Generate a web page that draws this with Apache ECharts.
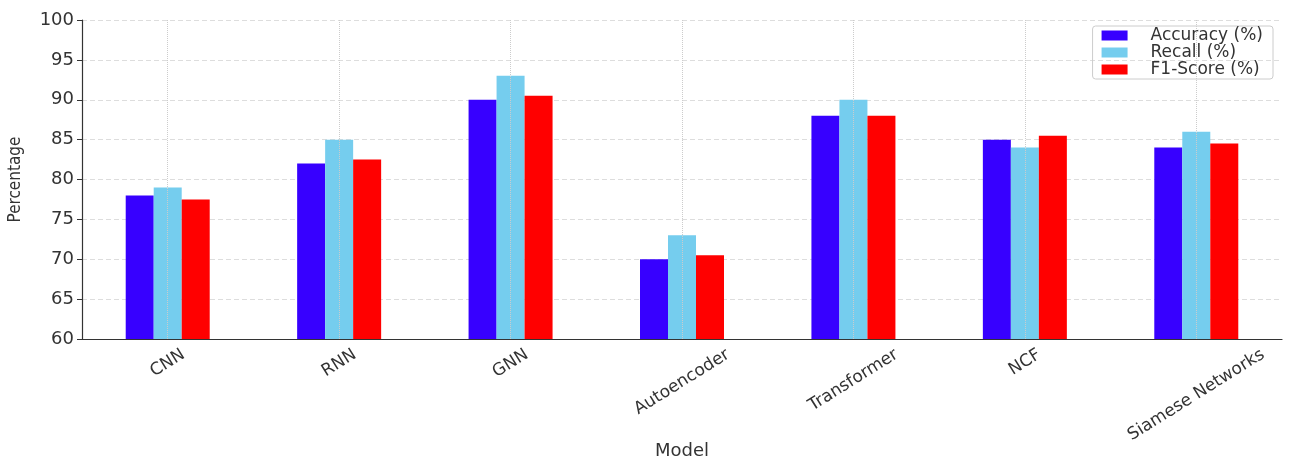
<!DOCTYPE html>
<html>
<head>
<meta charset="utf-8">
<script src="https://cdn.jsdelivr.net/npm/echarts@6/dist/echarts.min.js"></script>
<style>
  html, body { margin: 0; padding: 0; background: #fff; }
  #chart { width: 1302px; height: 466px; }
</style>
</head>
<body>
<div id="chart"></div>
<script>
const models = ["CNN", "RNN", "GNN", "Autoencoder", "Transformer", "NCF", "Siamese Networks"];
const accuracy = [78, 82, 90, 70, 88, 85, 84];
const recall = [79, 85, 93, 73, 90, 84, 86];
const f1Score = [77.5, 82.5, 90.5, 70.5, 88, 85.5, 84.5];
const yTicks = [60, 65, 70, 75, 80, 85, 90, 95, 100];

const labelFont = 17;
const labelFamily = "'DejaVu Sans', sans-serif";
const rotateDeg = 32;

// rotated tick labels are centred on the tick with their top just under the axis
const ctx = document.createElement("canvas").getContext("2d");
ctx.font = labelFont + "px " + labelFamily;
const theta = (rotateDeg * Math.PI) / 180;
const rich = {};
models.forEach((m, i) => {
  const L = ctx.measureText(m).width;
  const h = labelFont;
  const s = (L * Math.sin(theta) + h * Math.cos(theta)) / 2;
  rich["p" + i] = {
    fontSize: labelFont,
    fontFamily: labelFamily,
    color: "#333",
    padding: [2 * s * Math.cos(theta), 2 * s * Math.sin(theta), 0, 0],
  };
});

const chart = echarts.init(document.getElementById("chart"));

const barSeries = (name, data, color) => ({
  name,
  type: "bar",
  data,
  barWidth: 28,
  barGap: "0%",
  itemStyle: { color },
});

chart.setOption({
  animation: false,
  textStyle: { fontFamily: labelFamily },
  grid: { left: 82, right: 20, top: 20, bottom: 127, outerBoundsMode: "none", containLabel: false },
  legend: {
    orient: "vertical",
    right: 29,
    top: 26,
    itemWidth: 26,
    itemHeight: 10,
    itemGap: 0,
    padding: [1, 10, 1, 9],
    borderColor: "#ccc",
    borderWidth: 1,
    borderRadius: 3,
    icon: "rect",
    textStyle: { fontSize: 17, color: "#333", padding: [0, 0, 0, 18] },
  },
  xAxis: {
    type: "category",
    data: models,
    z: 3,
    name: "Model",
    nameLocation: "middle",
    nameGap: 103,
    nameMoveOverlap: false,
    nameTextStyle: { fontSize: 18, color: "#333" },
    axisLine: { lineStyle: { color: "#333", width: 1.2 } },
    axisTick: { alignWithLabel: true, inside: true, length: 4, lineStyle: { color: "#333" } },
    splitLine: {
      show: true,
      alignWithLabel: true,
      lineStyle: { color: "#ccc", type: "dotted", width: 1 },
    },
    axisLabel: {
      interval: 0,
      rotate: rotateDeg,
      align: "center",
      verticalAlign: "middle",
      margin: 7,
      formatter: (v, i) => "{p" + i + "|" + v + "}",
      rich,
    },
  },
  yAxis: {
    type: "value",
    min: yTicks[0],
    max: yTicks[yTicks.length - 1],
    interval: 5,
    name: "Percentage",
    nameLocation: "middle",
    nameGap: 58,
    nameMoveOverlap: false,
    nameTextStyle: {
      fontSize: 17,
      color: "#333",
      fontFamily: "'DejaVu Sans Condensed', 'Liberation Sans Narrow', 'Liberation Sans', sans-serif",
    },
    axisLine: { show: true, lineStyle: { color: "#333", width: 1.2 } },
    axisTick: { show: true, length: 5, lineStyle: { color: "#333" } },
    axisLabel: { fontSize: 18, color: "#333", margin: 8 },
    splitLine: { lineStyle: { color: "#ddd", type: [5, 3] } },
  },
  series: [
    barSeries("Accuracy (%)", accuracy, "#3700ff"),
    barSeries("Recall (%)", recall, "#75cdee"),
    barSeries("F1-Score (%)", f1Score, "#ff0000"),
  ],
});
</script>
</body>
</html>
